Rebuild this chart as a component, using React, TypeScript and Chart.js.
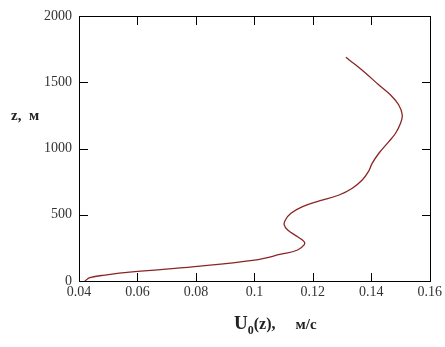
import React, { useEffect, useRef } from "react";
import { Chart, registerables } from "chart.js";

Chart.register(...registerables);

const uValues = [0.042, 0.0437, 0.0489, 0.0591, 0.0795, 0.1, 0.1091, 0.1148, 0.117, 0.117, 0.1148, 0.1114, 0.1102, 0.1106, 0.1125, 0.1165, 0.1222, 0.129, 0.1335, 0.1369, 0.139, 0.1403, 0.1426, 0.146, 0.1483, 0.15, 0.1506, 0.1494, 0.1466, 0.1426, 0.1381, 0.1347, 0.1313];
const zValues = [0, 25, 45, 70, 108, 158, 202, 234, 272, 297, 334, 385, 423, 460, 511, 561, 604, 649, 700, 762, 825, 888, 964, 1052, 1115, 1190, 1253, 1328, 1404, 1479, 1568, 1630, 1688];
const xTicks = [0.04, 0.06, 0.08, 0.1, 0.12, 0.14, 0.16];
const yTicks = [0, 500, 1000, 1500, 2000];

const frame = {
  id: "frame",
  afterDraw(chart: any) {
    const { ctx, chartArea: a } = chart;
    const L = 8;
    const sx = chart.scales["x"];
    const sy = chart.scales["y"];
    const l = Math.round(a.left);
    const r = Math.round(a.right);
    const t = Math.round(a.top);
    const b = Math.round(a.bottom);
    ctx.save();
    ctx.fillStyle = "#000";
    ctx.fillRect(l, t, r - l + 1, 1);
    ctx.fillRect(l, b, r - l + 1, 1);
    ctx.fillRect(l, t, 1, b - t + 1);
    ctx.fillRect(r, t, 1, b - t + 1);
    for (const v of xTicks) {
      const x = Math.round(sx.getPixelForValue(v));
      ctx.fillRect(x, b - L, 1, L);
      ctx.fillRect(x, t + 1, 1, L);
    }
    for (const v of yTicks) {
      const y = Math.round(sy.getPixelForValue(v));
      ctx.fillRect(l + 1, y, L, 1);
      ctx.fillRect(r - L, y, L, 1);
    }
    ctx.restore();
  },
};

export default function App() {
  const ref = useRef<HTMLCanvasElement>(null);
  useEffect(() => {
    const points = uValues.map((u, i) => ({ x: u, y: zValues[i] }));
    const font = { family: "'Liberation Serif', 'DejaVu Serif', serif", size: 14 };
    const chart = new Chart(ref.current!, {
      type: "scatter",
      data: {
        datasets: [
          {
            data: points,
            showLine: true,
            borderColor: "#8b2525",
            borderWidth: 1.3,
            pointRadius: 0,
            tension: 0.4,
          },
        ],
      },
      options: {
        animation: false,
        responsive: false,
        maintainAspectRatio: false,
        layout: { padding: { top: 16, right: 14, left: 0, bottom: 0 } },
        plugins: { legend: { display: false }, tooltip: { enabled: false } },
        scales: {
          x: {
            type: "linear",
            min: 0.04,
            max: 0.16,
            afterBuildTicks: (s: any) => {
              s.ticks = xTicks.map((v) => ({ value: v }));
            },
            afterFit: (s: any) => {
              s.height = 66;
            },
            grid: { display: false, drawTicks: false },
            border: { display: false },
            ticks: {
              padding: 3,
              color: "#333",
              font,
              maxRotation: 0,
              autoSkip: false,
              callback: (v: any) => String(Number(Number(v).toFixed(2))),
            },
          },
          y: {
            type: "linear",
            min: 0,
            max: 2000,
            afterBuildTicks: (s: any) => {
              s.ticks = yTicks.map((v) => ({ value: v }));
            },
            afterFit: (s: any) => {
              s.width = 79;
            },
            grid: { display: false, drawTicks: false },
            border: { display: false },
            ticks: {
              padding: 7,
              color: "#333",
              font,
              autoSkip: false,
              callback: (v: any) => String(v),
            },
          },
        },
      },
      plugins: [frame],
    });
    return () => chart.destroy();
  }, []);

  const titleFont = "'Liberation Serif', 'DejaVu Serif', serif";
  return (
    <div style={{ position: "absolute", left: 0, top: 0, width: 445, height: 347, background: "#fff" }}>
      <canvas ref={ref} width={445} height={347} style={{ display: "block" }} />
      <div
        style={{
          position: "absolute",
          left: 11,
          top: 107,
          fontFamily: titleFont,
          fontWeight: "bold",
          fontSize: 15,
          color: "#222",
          whiteSpace: "pre",
        }}
      >
        {"z,  м"}
      </div>
      <div
        style={{
          position: "absolute",
          left: 234,
          top: 312,
          fontFamily: titleFont,
          fontWeight: "bold",
          fontSize: 19,
          color: "#222",
          whiteSpace: "pre",
        }}
      >
        U<sub style={{ fontSize: 12 }}>0</sub>
        <span style={{ fontSize: 16 }}>{"(z),     "}</span>
        <span style={{ fontSize: 15 }}>м/с</span>
      </div>
    </div>
  );
}
